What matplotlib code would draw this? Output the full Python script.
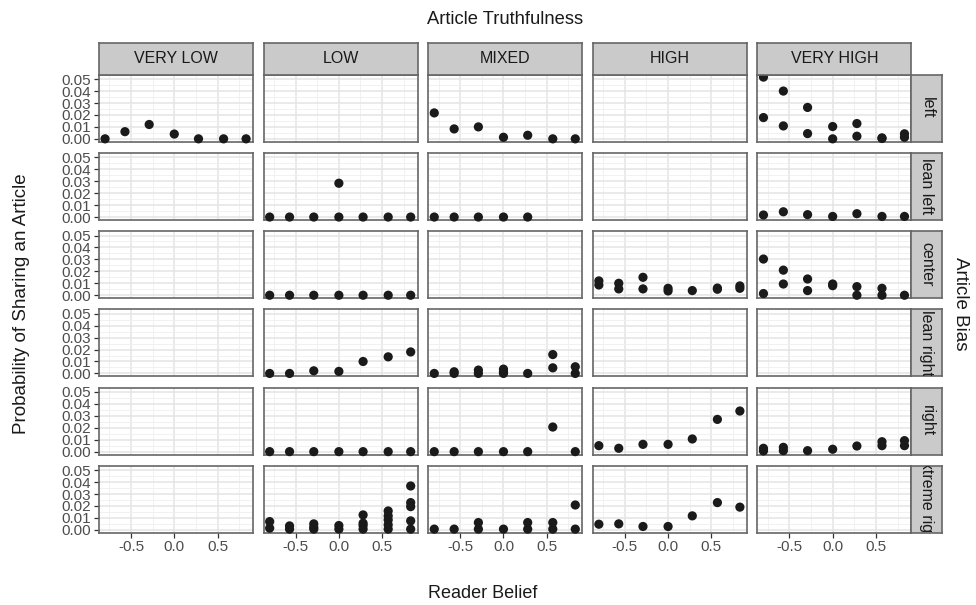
import matplotlib
matplotlib.use("Agg")
import matplotlib.pyplot as plt

plt.rcParams['font.family'] = ['Liberation Sans', 'DejaVu Sans']

truthfulness = ["VERY LOW", "LOW", "MIXED", "HIGH", "VERY HIGH"]
bias = ["left", "lean left", "center", "lean right", "right", "extreme right"]
x_ticks = [-0.5, 0.0, 0.5]
x_tick_labels = ["-0.5", "0.0", "0.5"]
y_ticks = [0.00, 0.01, 0.02, 0.03, 0.04, 0.05]
y_tick_labels = ["0.00", "0.01", "0.02", "0.03", "0.04", "0.05"]

# Reader belief levels
B = [-0.8, -0.57, -0.29, 0.0, 0.28, 0.57, 0.83]

# ---- left ----
left_verylow_x = B
left_verylow_y = [0.0, 0.006, 0.012, 0.004, 0.0, 0.0, 0.0]
left_mixed_x = B
left_mixed_y = [0.0217, 0.0083, 0.010, 0.0013, 0.003, 0.0, 0.0]
left_veryhigh_x = [-0.8, -0.8, -0.57, -0.57, -0.29, -0.29, 0.0, 0.0, 0.28, 0.28, 0.57, 0.57, 0.83, 0.83]
left_veryhigh_y = [0.0517, 0.0178, 0.040, 0.0108, 0.0263, 0.0044, 0.0103, 0.0, 0.0128, 0.0022, 0.0008, 0.0003, 0.0042, 0.0013]

# ---- lean left ----
leanleft_low_x = [-0.8, -0.57, -0.29, 0.0, 0.0, 0.28, 0.57, 0.83]
leanleft_low_y = [0.0, 0.0, 0.0, 0.0283, 0.0, 0.0, 0.0, 0.0]
leanleft_mixed_x = [-0.8, -0.57, -0.29, 0.0, 0.28]
leanleft_mixed_y = [0.0, 0.0, 0.0, 0.0, 0.0]
leanleft_veryhigh_x = B
leanleft_veryhigh_y = [0.0017, 0.0044, 0.002, 0.0005, 0.0028, 0.0005, 0.0005]

# ---- center ----
center_low_x = B
center_low_y = [0.0, 0.0, 0.0, 0.0, 0.0, 0.0, 0.0]
center_high_x = [-0.8, -0.8, -0.57, -0.57, -0.29, -0.29, 0.0, 0.0, 0.28, 0.57, 0.57, 0.83, 0.83]
center_high_y = [0.012, 0.0086, 0.010, 0.0053, 0.015, 0.0053, 0.0058, 0.0036, 0.0039, 0.006, 0.005, 0.0078, 0.0058]
center_veryhigh_x = [-0.8, -0.8, -0.57, -0.57, -0.29, -0.29, 0.0, 0.0, 0.28, 0.28, 0.57, 0.57, 0.83]
center_veryhigh_y = [0.0303, 0.0014, 0.021, 0.0094, 0.0136, 0.0039, 0.0094, 0.008, 0.0072, 0.0, 0.0058, 0.0, 0.0]

# ---- lean right ----
leanright_low_x = B
leanright_low_y = [0.0, 0.0, 0.0022, 0.0017, 0.010, 0.0139, 0.018]
leanright_mixed_x = [-0.8, -0.57, -0.57, -0.29, -0.29, 0.0, 0.0, 0.0, 0.28, 0.57, 0.57, 0.83, 0.83]
leanright_mixed_y = [0.0, 0.0014, 0.0, 0.0028, 0.0, 0.0036, 0.0014, 0.0, 0.0, 0.0158, 0.0047, 0.0056, 0.0]

# ---- right ----
right_low_x = B
right_low_y = [0.0, 0.0, 0.0, 0.0, 0.0, 0.0, 0.0]
right_mixed_x = B
right_mixed_y = [0.0, 0.0, 0.0, 0.0, 0.0, 0.0206, 0.0]
right_high_x = B
right_high_y = [0.005, 0.0028, 0.0061, 0.0061, 0.0106, 0.027, 0.034]
right_veryhigh_x = [-0.8, -0.8, -0.57, -0.57, -0.29, 0.0, 0.28, 0.57, 0.57, 0.83, 0.83]
right_veryhigh_y = [0.0028, 0.0006, 0.0036, 0.0008, 0.0008, 0.002, 0.0047, 0.0083, 0.005, 0.0092, 0.005]

# ---- extreme right ----
extright_low_x = [-0.8, -0.8, -0.57, -0.57, -0.29, -0.29, -0.29, 0.0, 0.0,
                  0.28, 0.28, 0.28, 0.28, 0.57, 0.57, 0.57, 0.57, 0.57,
                  0.83, 0.83, 0.83, 0.83, 0.83]
extright_low_y = [0.0069, 0.0014, 0.0033, 0.0006, 0.005, 0.0022, 0.0006, 0.0036, 0.0006,
                  0.0125, 0.0056, 0.0036, 0.0006, 0.0158, 0.0117, 0.0083, 0.0042, 0.0006,
                  0.0367, 0.0228, 0.0194, 0.0075, 0.0006]
extright_mixed_x = [-0.8, -0.57, -0.29, -0.29, 0.0, 0.28, 0.28, 0.57, 0.57, 0.83, 0.83]
extright_mixed_y = [0.0006, 0.0006, 0.0061, 0.0006, 0.0006, 0.0061, 0.0006, 0.0061, 0.0006, 0.0208, 0.0006]
extright_high_x = B
extright_high_y = [0.0047, 0.005, 0.0028, 0.0028, 0.0117, 0.0228, 0.019]

panels = {
    (0, 0): (left_verylow_x, left_verylow_y),
    (0, 2): (left_mixed_x, left_mixed_y),
    (0, 4): (left_veryhigh_x, left_veryhigh_y),
    (1, 1): (leanleft_low_x, leanleft_low_y),
    (1, 2): (leanleft_mixed_x, leanleft_mixed_y),
    (1, 4): (leanleft_veryhigh_x, leanleft_veryhigh_y),
    (2, 1): (center_low_x, center_low_y),
    (2, 3): (center_high_x, center_high_y),
    (2, 4): (center_veryhigh_x, center_veryhigh_y),
    (3, 1): (leanright_low_x, leanright_low_y),
    (3, 2): (leanright_mixed_x, leanright_mixed_y),
    (4, 1): (right_low_x, right_low_y),
    (4, 2): (right_mixed_x, right_mixed_y),
    (4, 3): (right_high_x, right_high_y),
    (4, 4): (right_veryhigh_x, right_veryhigh_y),
    (5, 1): (extright_low_x, extright_low_y),
    (5, 2): (extright_mixed_x, extright_mixed_y),
    (5, 3): (extright_high_x, extright_high_y),
}

W, H = 976, 605
fig = plt.figure(figsize=(W / 100, H / 100), dpi=100)

left0, pitch_x, pw = 99.0, 164.6, 154.0
top0, pitch_y, ph = 74.7, 78.2, 67.0
strip_top_h = 32.0
strip_right_w = 31.0

border = "#666666"
grid_major = "#e4e4e4"
grid_minor = "#efefef"
strip_fill = "#cacaca"
tick_col = "#4d4d4d"

def fx(px):
    return px / W

def fy(py):
    return 1 - py / H

for r in range(6):
    for c in range(5):
        x0 = left0 + c * pitch_x
        y0 = top0 + r * pitch_y
        ax = fig.add_axes([fx(x0), fy(y0 + ph), pw / W, ph / H])
        ax.set_facecolor("white")
        ax.set_xlim(-0.87, 0.91)
        ax.set_ylim(-0.0024, 0.0537)
        ax.set_xticks(x_ticks)
        ax.set_yticks(y_ticks)
        ax.set_xticks([-0.75, -0.25, 0.25, 0.75], minor=True)
        ax.set_yticks([0.005, 0.015, 0.025, 0.035, 0.045], minor=True)
        ax.grid(True, which="major", color=grid_major, linewidth=1.1, zorder=0)
        ax.grid(True, which="minor", color=grid_minor, linewidth=0.6, zorder=0)
        ax.set_axisbelow(True)
        for s in ax.spines.values():
            s.set_color(border)
            s.set_linewidth(1.2)
        ax.tick_params(which="minor", length=0)
        ax.tick_params(which="major", length=3.5, width=0.9, color="#333333",
                       labelsize=11, labelcolor=tick_col, pad=2)
        if c == 0:
            ax.set_yticklabels(y_tick_labels)
        else:
            ax.tick_params(axis="y", which="major", length=0, labelleft=False)
        if r == 5:
            ax.set_xticklabels(x_tick_labels)
        else:
            ax.tick_params(axis="x", which="major", length=0, labelbottom=False)
        if (r, c) in panels:
            xs, ys = panels[(r, c)]
            ax.scatter(xs, ys, s=44, color="#1a1a1a", edgecolors="none", zorder=3, clip_on=False)
        # top strips
        if r == 0:
            sax = fig.add_axes([fx(x0), fy(y0), pw / W, strip_top_h / H])
            sax.set_xticks([]); sax.set_yticks([])
            sax.set_facecolor(strip_fill)
            for s in sax.spines.values():
                s.set_color(border); s.set_linewidth(1.2)
            sax.text(0.5, 0.5, truthfulness[c], ha="center", va="center",
                     fontsize=11.5, color="#1a1a1a", transform=sax.transAxes)
        # right strips
        if c == 4:
            sax = fig.add_axes([fx(x0 + pw), fy(y0 + ph), strip_right_w / W, ph / H])
            sax.set_xticks([]); sax.set_yticks([])
            sax.set_facecolor(strip_fill)
            for s in sax.spines.values():
                s.set_color(border); s.set_linewidth(1.2)
            t = sax.text(0.5, 0.5, bias[r], ha="center", va="center", rotation=-90,
                         fontsize=11.5, color="#1a1a1a", transform=sax.transAxes, clip_on=True)
            t.set_clip_path(sax.patch)

cx = (left0 + 4 * pitch_x + pw + left0) / 2
cy = (top0 + 5 * pitch_y + ph + top0) / 2
fig.text(fx(cx), fy(20), "Article Truthfulness", ha="center", va="center", fontsize=13.2, color="#1a1a1a")
fig.text(fx(483), fy(593), "Reader Belief", ha="center", va="center", fontsize=13.0, color="#1a1a1a")
fig.text(fx(22), fy(cy), "Probability of Sharing an Article", ha="center", va="center",
         rotation=90, fontsize=13.5, color="#1a1a1a")
fig.text(fx(961), fy(cy), "Article Bias", ha="center", va="center",
         rotation=-90, fontsize=13.5, color="#1a1a1a")

fig.savefig("out.png", dpi=100, facecolor="white")
